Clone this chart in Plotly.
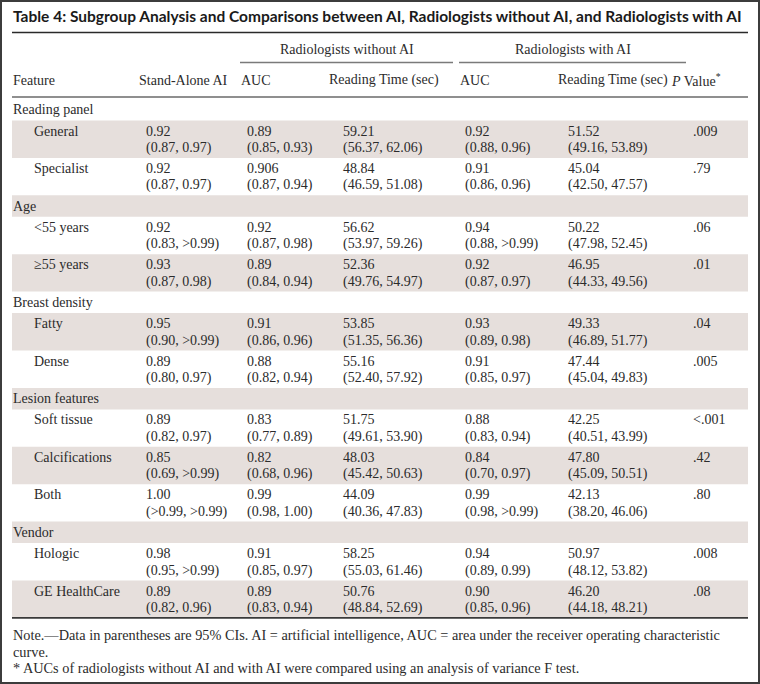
import plotly.graph_objects as go

# ---------------- data ----------------
title = "Table 4: Subgroup Analysis and Comparisons between AI, Radiologists without AI, and Radiologists with AI"
groups = ["Reading panel", "Age", "Breast density", "Lesion features", "Vendor"]
group_sizes = [2, 2, 2, 3, 2]
features = ["General", "Specialist", "<55 years", "≥55 years", "Fatty", "Dense",
            "Soft tissue", "Calcifications", "Both", "Hologic", "GE HealthCare"]
standalone_auc = ["0.92", "0.92", "0.92", "0.93", "0.95", "0.89", "0.89", "0.85", "1.00", "0.98", "0.89"]
standalone_ci = ["(0.87, 0.97)", "(0.87, 0.97)", "(0.83, >0.99)", "(0.87, 0.98)", "(0.90, >0.99)",
                 "(0.80, 0.97)", "(0.82, 0.97)", "(0.69, >0.99)", "(>0.99, >0.99)", "(0.95, >0.99)",
                 "(0.82, 0.96)"]
wo_auc = ["0.89", "0.906", "0.92", "0.89", "0.91", "0.88", "0.83", "0.82", "0.99", "0.91", "0.89"]
wo_auc_ci = ["(0.85, 0.93)", "(0.87, 0.94)", "(0.87, 0.98)", "(0.84, 0.94)", "(0.86, 0.96)",
             "(0.82, 0.94)", "(0.77, 0.89)", "(0.68, 0.96)", "(0.98, 1.00)", "(0.85, 0.97)",
             "(0.83, 0.94)"]
wo_time = ["59.21", "48.84", "56.62", "52.36", "53.85", "55.16", "51.75", "48.03", "44.09", "58.25", "50.76"]
wo_time_ci = ["(56.37, 62.06)", "(46.59, 51.08)", "(53.97, 59.26)", "(49.76, 54.97)", "(51.35, 56.36)",
              "(52.40, 57.92)", "(49.61, 53.90)", "(45.42, 50.63)", "(40.36, 47.83)", "(55.03, 61.46)",
              "(48.84, 52.69)"]
w_auc = ["0.92", "0.91", "0.94", "0.92", "0.93", "0.91", "0.88", "0.84", "0.99", "0.94", "0.90"]
w_auc_ci = ["(0.88, 0.96)", "(0.86, 0.96)", "(0.88, >0.99)", "(0.87, 0.97)", "(0.89, 0.98)",
            "(0.85, 0.97)", "(0.83, 0.94)", "(0.70, 0.97)", "(0.98, >0.99)", "(0.89, 0.99)",
            "(0.85, 0.96)"]
w_time = ["51.52", "45.04", "50.22", "46.95", "49.33", "47.44", "42.25", "47.80", "42.13", "50.97", "46.20"]
w_time_ci = ["(49.16, 53.89)", "(42.50, 47.57)", "(47.98, 52.45)", "(44.33, 49.56)", "(46.89, 51.77)",
             "(45.04, 49.83)", "(40.51, 43.99)", "(45.09, 50.51)", "(38.20, 46.06)", "(48.12, 53.82)",
             "(44.18, 48.21)"]
p_values = [".009", ".79", ".06", ".01", ".04", ".005", "<.001", ".42", ".80", ".008", ".08"]

span_headers = ["Radiologists without AI", "Radiologists with AI"]
col_headers = ["Feature", "Stand-Alone AI", "AUC", "Reading Time (sec)", "AUC",
               "Reading Time (sec)", "<i>P</i> Value<sup>*</sup>"]
notes = ["Note.\u2014Data in parentheses are 95% CIs. AI = artificial intelligence, AUC = area under the receiver operating characteristic",
         "curve.",
         "* AUCs of radiologists without AI and with AI were compared using an analysis of variance F test."]

# ---------------- layout constants ----------------
W, H = 760, 684
SERIF = "Liberation Serif, Times New Roman, serif"
TXT = "#2b2b2b"
SHADE = "#e6dfdc"
FS = 14
X0, X1 = 12, 748
col_x = [33, 145, 246, 342, 464, 567, 692]          # data value left edges
head_x = [12, 138, 240, 328, 459, 557, 670]         # header left edges
span_x = [(240, 453), (459, 686)]
ROW0 = 99
H_SEC = 21.5
H_DAT = 37.4

fig = go.Figure()
fig.add_trace(go.Scatter(x=[0, W], y=[0, H], mode="markers",
                         marker=dict(opacity=0), hoverinfo="skip", showlegend=False))

shapes = []
ann = []


def text(x, y, s, size=FS, color=TXT, family=SERIF, xanchor="left"):
    ann.append(dict(x=x, y=y, xref="x", yref="y", text=s, showarrow=False,
                    xanchor=xanchor, yanchor="middle", borderpad=0,
                    font=dict(family=family, size=size, color=color)))


def hline(y, x0, x1, color, width):
    shapes.append(dict(type="line", xref="x", yref="y", x0=x0, x1=x1, y0=y, y1=y,
                       line=dict(color=color, width=width)))


# title + rule
text(X0, 16, "<b>" + title + "</b>", size=15.5, color="#1a1a1a", family="Lato, Open Sans, sans-serif")
hline(32.5, X0, X1, "#2a2a2a", 1.6)

# spanning headers
for (a, b), s in zip(span_x, span_headers):
    text((a + b) / 2, 49, s, xanchor="center")
    hline(62.5, a, b, "#7a7a7a", 1.4)

# column headers
for x, s in zip(head_x, col_headers):
    text(x, 80, s)
hline(97, X0, X1, "#6a6a6a", 1.6)

# body rows
y = ROW0
k = 0
ridx = 0
for g, n in zip(groups, group_sizes):
    if ridx % 2 == 1:
        shapes.append(dict(type="rect", xref="x", yref="y", x0=X0, x1=X1, y0=y, y1=y + H_SEC,
                           fillcolor=SHADE, line=dict(width=0), layer="below"))
    text(X0, y + H_SEC / 2, g)
    y += H_SEC
    ridx += 1
    for _ in range(n):
        if ridx % 2 == 1:
            shapes.append(dict(type="rect", xref="x", yref="y", x0=X0, x1=X1, y0=y, y1=y + H_DAT,
                               fillcolor=SHADE, line=dict(width=0), layer="below"))
        l1 = y + 10.5
        l2 = y + 27.5
        text(col_x[0], l1, features[k].replace("<", "&lt;"))
        text(col_x[1], l1, standalone_auc[k]); text(col_x[1], l2, standalone_ci[k].replace(">", "&gt;"))
        text(col_x[2], l1, wo_auc[k]);         text(col_x[2], l2, wo_auc_ci[k].replace(">", "&gt;"))
        text(col_x[3], l1, wo_time[k]);        text(col_x[3], l2, wo_time_ci[k])
        text(col_x[4], l1, w_auc[k]);          text(col_x[4], l2, w_auc_ci[k].replace(">", "&gt;"))
        text(col_x[5], l1, w_time[k]);         text(col_x[5], l2, w_time_ci[k])
        text(col_x[6], l1, p_values[k].replace("<", "&lt;"))
        y += H_DAT
        ridx += 1
        k += 1

hline(y, X0, X1, "#3a3a3a", 1.6)

# notes
for i, s in enumerate(notes):
    text(X0, 635 + i * 16.5, s, size=14.3)

# outer frame
shapes.append(dict(type="rect", xref="x", yref="y", x0=1, x1=W - 1, y0=1, y1=H - 1,
                   line=dict(color="#3c3c3c", width=2), fillcolor="rgba(0,0,0,0)"))

fig.update_layout(
    width=W, height=H, margin=dict(l=0, r=0, t=0, b=0),
    paper_bgcolor="white", plot_bgcolor="white",
    xaxis=dict(range=[0, W], visible=False, fixedrange=True),
    yaxis=dict(range=[H, 0], visible=False, fixedrange=True),
    shapes=shapes, annotations=ann, showlegend=False,
)
fig.write_html("out.html", config={"displayModeBar": False},
               post_script="document.body.style.margin='0';document.body.style.overflow='hidden';")
